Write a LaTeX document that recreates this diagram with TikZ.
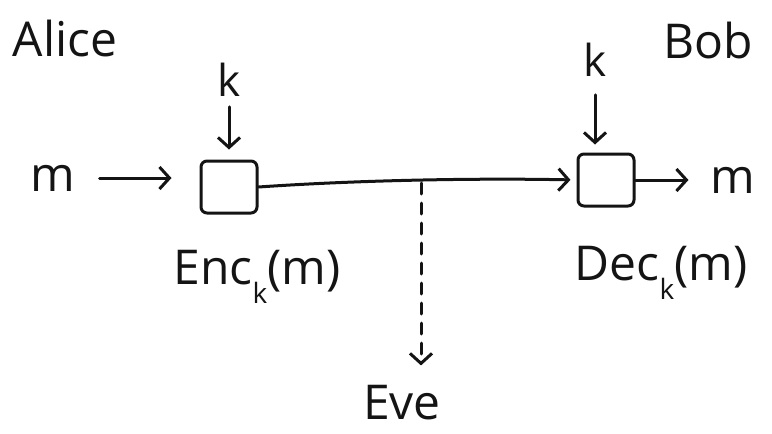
\documentclass[tikz,border=0pt]{standalone}
\usepackage{fontspec}
\setmainfont{Open Sans}
\usetikzlibrary{arrows.meta}
\begin{document}
\begin{tikzpicture}[x=1pt,y=-1pt,
  ink/.style={line width=3pt, line cap=round, line join=round, black!92},
  hw/.style={font=\fontsize{48}{48}\selectfont, inner sep=0pt, text=black!92},
  tip/.style={-{Straight Barb[length=10pt,width=22pt,line width=3pt]}},
  boxnode/.style={draw, ink, rounded corners=6pt, minimum width=56pt, minimum height=52pt, inner sep=0pt}
]
\useasboundingbox (0,0) rectangle (772,434);
% labels
\node[hw] (alice) at (65,38) {Alice};
\node[hw] (bob) at (708,40) {Bob};
\node[hw,font=\fontsize{44}{44}\selectfont] (kA) at (229,80) {k};
\node[hw,font=\fontsize{44}{44}\selectfont] (kB) at (595,60) {k};
\node[hw] (mIn) at (53,178) {m};
\node[hw] (mOut) at (733,180) {m};
% boxes
\node[boxnode] (enc) at (229,187) {};
\node[boxnode] (dec) at (606,180) {};
% box captions
\node[hw] (enclab) at (257,277) {Enc\raisebox{-0.4em}{\fontsize{28}{28}\selectfont k}(m)};
\node[hw] (declab) at (661,273) {Dec\raisebox{-0.4em}{\fontsize{28}{28}\selectfont k}(m)};
\node[hw] (eve) at (402,403) {Eve};
\coordinate (tap) at (421,183);
% connectors
\draw[ink,tip,shorten <=24pt,shorten >=28pt] (mIn.east) -- (mIn.east -| enc.west);
\draw[ink,tip,shorten <=10pt,shorten >=10pt] (kA.south) -- (kA.south |- enc.north);
\draw[ink,tip,shorten <=18pt,shorten >=8pt] (kB.south) -- (kB.south |- dec.north);
\draw[ink,tip,shorten >=6pt] (enc.east) .. controls (360,180) and (480,178) .. (dec.west);
\draw[ink,dashed,dash pattern=on 11pt off 9pt,tip,shorten >=20pt] (tap) -- (tap |- eve.north);
\draw[ink,tip,shorten >=22pt] (dec.east) -- (dec.east -| mOut.west);
\end{tikzpicture}
\end{document}
